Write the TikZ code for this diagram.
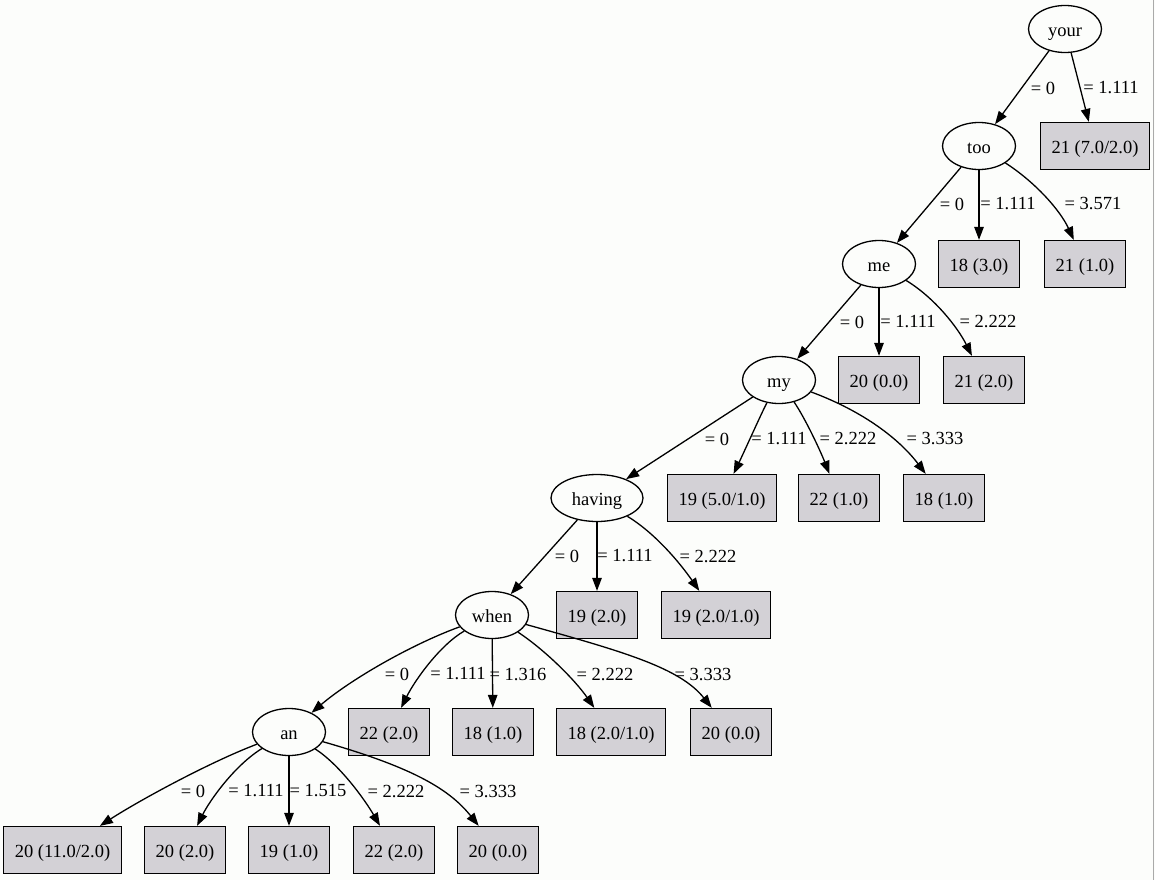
\documentclass[tikz,border=0pt]{standalone}
\usepackage{fontspec}
\setmainfont{Liberation Serif}
\usetikzlibrary{shapes.geometric,arrows.meta}
\definecolor{pagebg}{RGB}{252,253,251}
\definecolor{leaffill}{RGB}{211,209,214}
\definecolor{edgegray}{RGB}{170,170,170}
\begin{document}
\begin{tikzpicture}[x=1pt,y=-1pt,
  font=\fontsize{18.5}{22}\selectfont,
  attr/.style={ellipse,draw,line width=1.3pt,inner sep=0pt,text height=17pt,text depth=2pt,minimum width=73pt,minimum height=47pt},
  leaf/.style={rectangle,draw,line width=1.3pt,fill=leaffill,inner xsep=11pt,inner ysep=0pt,text height=17pt,text depth=2pt,minimum width=78pt,minimum height=47pt},
  lbl/.style={inner sep=0pt},
  branch/.style={line width=1.3pt,-{Triangle[length=13pt,width=9.5pt]}}]
  % canvas
  \fill[pagebg] (0,0) rectangle (1155,880);
  \useasboundingbox (0,0) rectangle (1155,880);
  \draw[edgegray,line width=1.2pt] (1153.5,0) -- (1153.5,880);

  % decision nodes
  \node[attr] (your) at (1065,29) {your};
  \node[attr] (too) at (979,146) {too};
  \node[attr] (me) at (879,264) {me};
  \node[attr] (my) at (779,380) {my};
  \node[attr,minimum width=92pt] (having) at (597,498) {having};
  \node[attr] (when) at (492,615) {when};
  \node[attr] (an) at (289,732) {an};

  % leaves
  \node[leaf] (l1) at (1095,146) {21 (7.0/2.0)};
  \node[leaf] (l2) at (979,264) {18 (3.0)};
  \node[leaf] (l3) at (1085,264) {21 (1.0)};
  \node[leaf] (l4) at (879,380) {20 (0.0)};
  \node[leaf] (l5) at (984,380) {21 (2.0)};
  \node[leaf] (l6) at (722,498) {19 (5.0/1.0)};
  \node[leaf] (l7) at (839,498) {22 (1.0)};
  \node[leaf] (l8) at (944,498) {18 (1.0)};
  \node[leaf] (l9) at (597,615) {19 (2.0)};
  \node[leaf] (l10) at (716,615) {19 (2.0/1.0)};
  \node[leaf] (l11) at (389,732) {22 (2.0)};
  \node[leaf] (l12) at (493,732) {18 (1.0)};
  \node[leaf] (l13) at (611,732) {18 (2.0/1.0)};
  \node[leaf] (l14) at (731,732) {20 (0.0)};
  \node[leaf] (l15) at (62.5,850) {20 (11.0/2.0)};
  \node[leaf] (l16) at (185,850) {20 (2.0)};
  \node[leaf] (l17) at (289,850) {19 (1.0)};
  \node[leaf] (l18) at (394,850) {22 (2.0)};
  \node[leaf] (l19) at (498,850) {20 (0.0)};

  % branches of "your"
  \draw[branch] (your) -- (too);
  \draw[branch] (your) -- (l1);
  \node[lbl] (t1) at (1043,88) {= 0};
  \node[lbl] (t2) at (1111,88) {= 1.111};

  % branches of "too"
  \draw[branch] (too) -- (me);
  \draw[branch] (too) -- (l2);
  \draw[branch] (too) .. controls (1035,182) and (1060,210) .. (l3);
  \node[lbl] (t3) at (952,204) {= 0};
  \node[lbl] (t4) at (1008,204) {= 1.111};
  \node[lbl] (t5) at (1093,204) {= 3.571};

  % branches of "me"
  \draw[branch] (me) -- (my);
  \draw[branch] (me) -- (l4);
  \draw[branch] (me) .. controls (935,298) and (958,328) .. (l5);
  \node[lbl] (t6) at (852,322) {= 0};
  \node[lbl] (t7) at (908,322) {= 1.111};
  \node[lbl] (t8) at (988,322) {= 2.222};

  % branches of "my"
  \draw[branch] (my) -- (having);
  \draw[branch] (my) .. controls (762,412) and (745,450) .. (l6);
  \draw[branch] (my) .. controls (805,418) and (820,450) .. (l7);
  \draw[branch] (my) .. controls (865,412) and (900,440) .. (l8);
  \node[lbl] (t9) at (717,439) {= 0};
  \node[lbl] (t10) at (779,439) {= 1.111};
  \node[lbl] (t11) at (848,439) {= 2.222};
  \node[lbl] (t12) at (935,439) {= 3.333};

  % branches of "having"
  \draw[branch] (having) -- (when);
  \draw[branch] (having) -- (l9);
  \draw[branch] (having) .. controls (655,533) and (680,563) .. (l10);
  \node[lbl] (t13) at (567,556) {= 0};
  \node[lbl] (t14) at (625,556) {= 1.111};
  \node[lbl] (t15) at (708,556) {= 2.222};

  % branches of "when"
  \draw[branch] (when) .. controls (410,645) and (350,680) .. (an);
  \draw[branch] (when) .. controls (440,645) and (415,680) .. (l11);
  \draw[branch] (when) -- (l12);
  \draw[branch] (when) .. controls (545,650) and (575,680) .. (l13);
  \draw[branch] (when) .. controls (625,652) and (680,668) .. (l14);
  \node[lbl] (t16) at (397,674) {= 0};
  \node[lbl] (t17) at (458,674) {= 1.111};
  \node[lbl] (t18) at (518,674) {= 1.316};
  \node[lbl] (t19) at (605,674) {= 2.222};
  \node[lbl] (t20) at (703,674) {= 3.333};

  % branches of "an"
  \draw[branch] (an) .. controls (210,762) and (140,800) .. (l15);
  \draw[branch] (an) .. controls (235,765) and (210,800) .. (l16);
  \draw[branch] (an) -- (l17);
  \draw[branch] (an) .. controls (340,765) and (365,800) .. (l18);
  \draw[branch] (an) .. controls (415,768) and (450,790) .. (l19);
  \node[lbl] (t21) at (193,791) {= 0};
  \node[lbl] (t22) at (256,791) {= 1.111};
  \node[lbl] (t23) at (318,791) {= 1.515};
  \node[lbl] (t24) at (396,791) {= 2.222};
  \node[lbl] (t25) at (488,791) {= 3.333};
\end{tikzpicture}
\end{document}
